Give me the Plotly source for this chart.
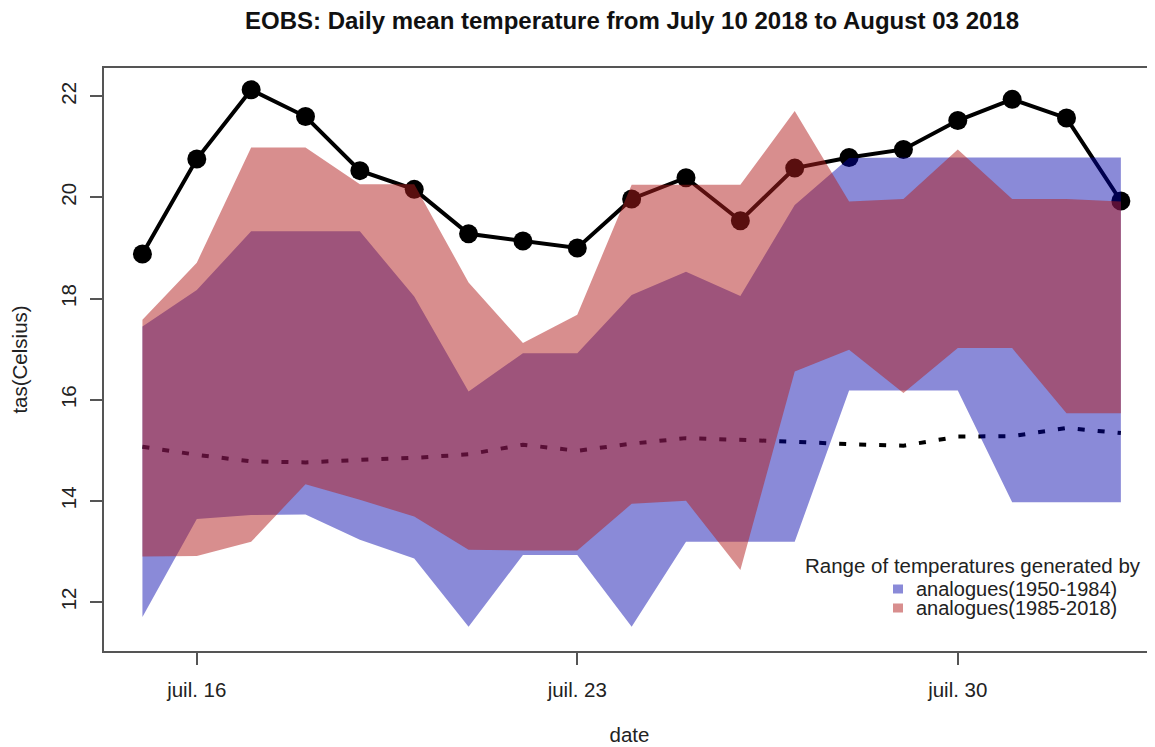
import pandas as pd
import plotly.graph_objects as go

# ---- data ----
dates = pd.date_range("2018-07-15", "2018-08-02", freq="D").strftime("%Y-%m-%d").tolist()

observed = [18.88, 20.76, 22.13, 21.60, 20.53, 20.16, 19.28, 19.14, 19.00, 19.97,
            20.39, 19.54, 20.58, 20.79, 20.95, 21.52, 21.94, 21.57, 19.93]

mean_dashed = [15.07, 14.91, 14.78, 14.76, 14.81, 14.85, 14.92, 15.11, 14.99, 15.13,
               15.24, 15.21, 15.17, 15.12, 15.09, 15.27, 15.28, 15.44, 15.34]

old_upper = [17.45, 18.17, 19.33, 19.33, 19.33, 18.04, 16.16, 16.92, 16.92, 18.07,
             18.53, 18.05, 19.85, 20.78, 20.79, 20.79, 20.79, 20.79, 20.79]
old_lower = [11.70, 13.64, 13.72, 13.73, 13.23, 12.86, 11.51, 12.93, 12.93, 11.51,
             13.19, 13.19, 13.19, 16.18, 16.18, 16.18, 13.97, 13.97, 13.97]

new_upper = [17.58, 18.71, 20.99, 20.99, 20.26, 20.26, 18.32, 17.12, 17.68, 20.25,
             20.25, 20.25, 21.71, 19.92, 19.97, 20.95, 19.97, 19.97, 19.92]
new_lower = [12.90, 12.91, 13.19, 14.33, 14.02, 13.69, 13.03, 13.02, 13.02, 13.94,
             14.00, 12.63, 16.56, 16.99, 16.13, 17.02, 17.02, 15.73, 15.73]

tick_dates = ["2018-07-16", "2018-07-23", "2018-07-30"]
tick_labels = ["juil. 16", "juil. 23", "juil. 30"]
y_ticks = [12, 14, 16, 18, 20, 22]

series_names = ["analogues(1950-1984)", "analogues(1985-2018)"]
legend_title = "Range of temperatures generated by"
title_text = "EOBS: Daily mean temperature from July 10 2018 to August 03 2018"

# ---- styles ----
BLUE = "rgba(0,0,170,0.46)"
RED = "rgba(178,30,30,0.50)"
FONT = "Liberation Sans, Arial, sans-serif"
TXT = "#222222"
FS = 20.5

# the page body adds an 8px offset; figure is sized/positioned to compensate
OFF = 8
W, H = 1155 - OFF, 747 - OFF
PL, PT, PR, PB = 104, 68, 1155, 651   # plot area in page pixels

fig = go.Figure()

# observed line with points (drawn first, polygons are drawn over it)
fig.add_trace(go.Scatter(x=dates, y=observed, mode="lines+markers",
                         line=dict(color="black", width=4),
                         marker=dict(color="black", size=19),
                         showlegend=False, hoverinfo="skip"))
# dashed line
fig.add_trace(go.Scatter(x=dates, y=mean_dashed, mode="lines",
                         line=dict(color="black", width=4, dash="7px,13px"),
                         showlegend=False, hoverinfo="skip"))

# range polygons
def band(upper, lower, color):
    return go.Scatter(x=dates + dates[::-1], y=upper + lower[::-1],
                      fill="toself", fillcolor=color, mode="none",
                      line=dict(width=0), showlegend=False, hoverinfo="skip")

fig.add_trace(band(old_upper, old_lower, BLUE))
fig.add_trace(band(new_upper, new_lower, RED))

# x range: R-style 4% extension; right side cut by the image border
x0 = pd.Timestamp(dates[0]) - pd.Timedelta(days=0.707)
x1 = pd.Timestamp(dates[-1]) + pd.Timedelta(days=0.628)

fig.update_layout(
    width=W, height=H,
    margin=dict(l=PL - OFF, r=W - (PR - OFF), t=PT - OFF, b=H - (PB - OFF), autoexpand=False),
    paper_bgcolor="white", plot_bgcolor="white",
    font=dict(family=FONT, color=TXT, size=FS),
    title=dict(text="<b>" + title_text + "</b>", x=(632 - OFF) / W, xanchor="center",
               xref="container", y=1 - (21 - OFF) / H, yanchor="middle",
               font=dict(family=FONT, size=24, color="#111111")),
    xaxis=dict(type="date", range=[x0, x1], showgrid=False, zeroline=False,
               showline=True, mirror=True, linecolor="#555555", linewidth=1.5,
               ticks="outside", ticklen=12, tickcolor="#555555", tickwidth=1.5,
               tickvals=tick_dates, ticktext=tick_labels, ticklabelstandoff=8,
               tickfont=dict(size=FS, color=TXT),
               title=dict(text="date", standoff=27, font=dict(size=FS, color=TXT))),
    yaxis=dict(range=[11.03, 22.56], showgrid=False, zeroline=False,
               showline=True, linecolor="#555555", linewidth=1.5,
               ticks="outside", ticklen=12, tickcolor="#555555", tickwidth=1.5,
               tickvals=y_ticks, tickangle=-90, ticklabelstandoff=6,
               tickfont=dict(size=FS, color=TXT),
               title=dict(text="tas(Celsius)", standoff=28, font=dict(size=FS, color=TXT))),
)

# legend drawn as annotations + squares to mimic the R legend
pw = PR - PL
ph = PB - PT
def px(xp):
    return (xp - PL) / pw
def py(yp):
    return (PB - yp) / ph

fig.add_annotation(x=px(1143), y=py(565), xref="paper", yref="paper",
                   text=legend_title, showarrow=False, xanchor="right", yanchor="middle",
                   font=dict(size=FS, color=TXT))
for name, col, yy in zip(series_names, [BLUE, RED], [589, 608]):
    fig.add_annotation(x=px(914), y=py(yy), xref="paper", yref="paper",
                       text=name, showarrow=False, xanchor="left", yanchor="middle",
                       font=dict(size=20, color=TXT))
    fig.add_shape(type="rect", xref="paper", yref="paper",
                  x0=px(893), x1=px(903), y0=py(yy + 4.5), y1=py(yy - 4.5),
                  fillcolor=col, line=dict(width=0))

fig.write_html("out.html")
